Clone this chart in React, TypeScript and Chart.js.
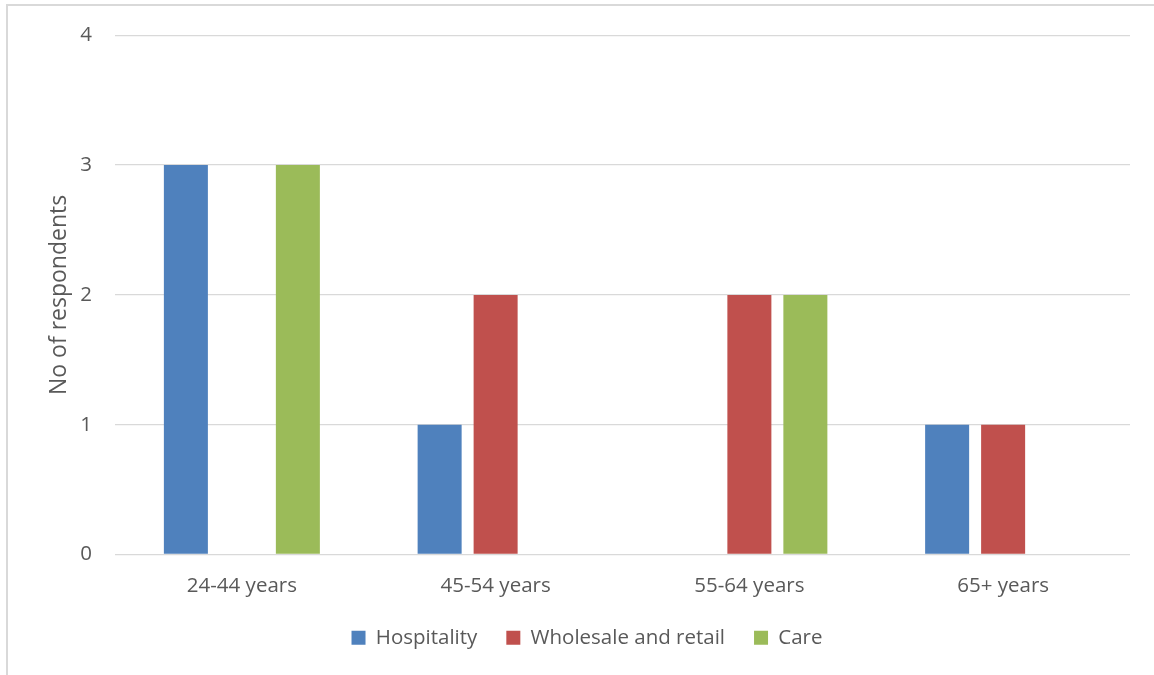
import React, { useEffect, useRef } from "react";
import { Chart, registerables } from "chart.js";

Chart.register(...registerables);

const categories = ["24-44 years", "45-54 years", "55-64 years", "65+ years"];
const hospitality = [3, 1, 0, 1];
const wholesale = [0, 2, 2, 1];
const care = [3, 0, 2, 0];
const yTicks = [0, 1, 2, 3, 4];

const FONT = "'Open Sans', sans-serif";
const TEXT = "#595959";

export default function App() {
  const ref = useRef<HTMLCanvasElement | null>(null);

  useEffect(() => {
    if (!ref.current) return;
    const chart = new Chart(ref.current, {
      type: "bar",
      data: {
        labels: categories,
        datasets: [
          { label: "Hospitality", data: hospitality, backgroundColor: "#4f81bd" },
          { label: "Wholesale and retail", data: wholesale, backgroundColor: "#c0504d" },
          { label: "Care", data: care, backgroundColor: "#9bbb59" },
        ],
      },
      options: {
        animation: false,
        responsive: false,
        maintainAspectRatio: false,
        layout: { padding: { left: 44, top: 33, right: 24, bottom: 17 } },
        datasets: {
          bar: { categoryPercentage: 0.662, barPercentage: 0.786 },
        },
        plugins: {
          tooltip: { enabled: false },
          legend: {
            position: "bottom",
            labels: {
              boxWidth: 14,
              boxHeight: 14,
              padding: 29,
              color: TEXT,
              font: { family: FONT, size: 20.5 },
            },
          },
        },
        scales: {
          x: {
            grid: { display: false },
            border: { display: false },
            ticks: { color: TEXT, font: { family: FONT, size: 20.5 }, padding: 11 },
            afterFit: (s: any) => {
              s.height = 44;
            },
          },
          y: {
            min: 0,
            max: 4,
            afterBuildTicks: (s: any) => {
              s.ticks = yTicks.map((v) => ({ value: v }));
            },
            grid: { color: "#d9d9d9", lineWidth: 1.3, drawTicks: false },
            border: { display: false },
            ticks: { color: TEXT, font: { family: FONT, size: 20.5 }, padding: 23 },
            title: {
              display: true,
              text: "No of respondents",
              color: TEXT,
              font: { family: FONT, size: 23 },
              padding: { top: 2, bottom: 0 },
            },
            afterFit: (s: any) => {
              s.width = 71;
            },
          },
        },
      },
    });
    return () => chart.destroy();
  }, []);

  return (
    <div style={{ position: "fixed", left: 0, top: 0, width: 1154, height: 675, background: "#fff" }}>
      <div
        style={{
          position: "absolute",
          left: 6,
          top: 4,
          width: 1200,
          height: 700,
          borderLeft: "2px solid #d9d9d9",
          borderTop: "2px solid #d9d9d9",
        }}
      />
      <canvas ref={ref} width={1154} height={675} style={{ position: "absolute", left: 0, top: 0 }} />
    </div>
  );
}
